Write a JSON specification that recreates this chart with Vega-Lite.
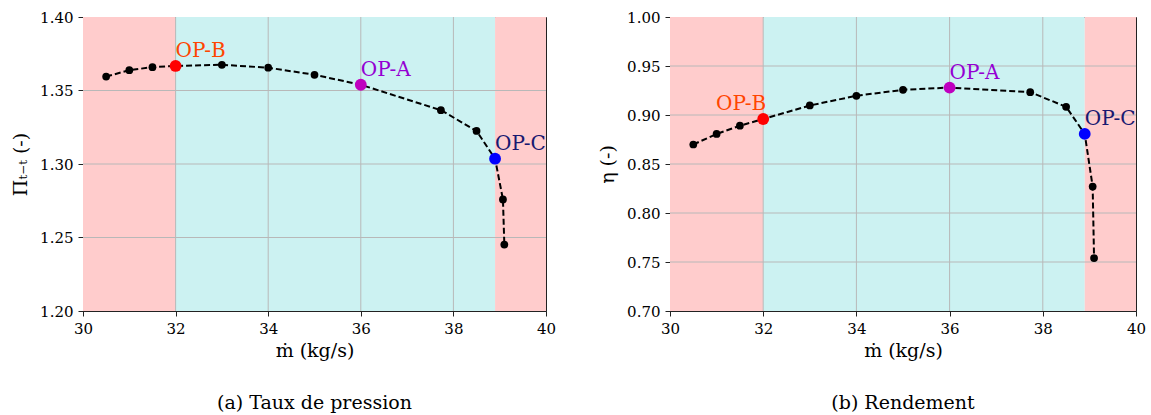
{
  "$schema": "https://vega.github.io/schema/vega-lite/v6.json",
  "padding": {"left": 11, "top": 9, "right": 5, "bottom": 5},
  "spacing": 41,
  "config": {
    "font": "DejaVu Serif",
    "view": {"stroke": "#222", "strokeWidth": 1},
    "axis": {
      "labelFont": "DejaVu Serif", "labelFontSize": 15, "labelColor": "#000",
      "titleFont": "DejaVu Serif", "titleFontSize": 19, "titleFontWeight": "normal", "titleColor": "#000",
      "domainColor": "#222", "domainWidth": 1, "tickColor": "#222", "tickSize": 5, "grid": false,
      "labelPadding": 5, "labelFlush": false, "labelOverlap": false
    },
    "title": {"font": "DejaVu Serif", "fontSize": 19, "fontWeight": "normal", "color": "#000", "orient": "bottom", "offset": 34}
  },
  "datasets": {
    "pts": [
      {"m": 30.5, "pi": 1.3595, "eta": 0.8699, "op": null},
      {"m": 31.0, "pi": 1.3638, "eta": 0.8807, "op": null},
      {"m": 31.5, "pi": 1.3659, "eta": 0.8891, "op": null},
      {"m": 32.0, "pi": 1.3667, "eta": 0.8959, "op": "OP-B"},
      {"m": 33.0, "pi": 1.3675, "eta": 0.9097, "op": null},
      {"m": 34.0, "pi": 1.3655, "eta": 0.9196, "op": null},
      {"m": 35.0, "pi": 1.3607, "eta": 0.9257, "op": null},
      {"m": 36.0, "pi": 1.3539, "eta": 0.9280, "op": "OP-A"},
      {"m": 37.73, "pi": 1.3366, "eta": 0.9233, "op": null},
      {"m": 38.5, "pi": 1.3225, "eta": 0.9084, "op": null},
      {"m": 38.9, "pi": 1.3036, "eta": 0.8807, "op": "OP-C"},
      {"m": 39.07, "pi": 1.2759, "eta": 0.8270, "op": null},
      {"m": 39.1, "pi": 1.2452, "eta": 0.7540, "op": null}
    ],
    "zones": [
      {"x0": 30, "x1": 32, "zone": "hors"},
      {"x0": 32, "x1": 38.9, "zone": "plage"},
      {"x0": 38.9, "x1": 40, "zone": "hors"}
    ],
    "gridx": [{"v": 32}, {"v": 34}, {"v": 36}, {"v": 38}],
    "gridpi": [{"v": 1.25}, {"v": 1.30}, {"v": 1.35}],
    "grideta": [{"v": 0.75}, {"v": 0.80}, {"v": 0.85}, {"v": 0.90}, {"v": 0.95}]
  },
  "hconcat": [
    {
      "width": 463, "height": 294,
      "title": {"text": "(a) Taux de pression"},
      "resolve": {"scale": {"color": "independent"}},
      "layer": [
        {
          "data": {"name": "zones"},
          "mark": {"type": "rect"},
          "encoding": {
            "x": {"field": "x0", "type": "quantitative", "scale": {"domain": [30, 40], "nice": false},
                  "axis": {"title": "ṁ (kg/s)", "values": [30, 32, 34, 36, 38, 40], "format": "d", "titlePadding": 5,
                           "labelFont": "DejaVu Serif", "titleFont": "DejaVu Serif"}},
            "x2": {"field": "x1"},
            "color": {"field": "zone", "type": "nominal", "scale": {"domain": ["hors", "plage"], "range": ["#ffcccc", "#ccf2f2"]}, "legend": null}
          }
        },
        {
          "data": {"name": "gridx"},
          "mark": {"type": "rule", "color": "#b8b8b8", "strokeWidth": 1},
          "encoding": {"x": {"field": "v", "type": "quantitative"}}
        },
        {
          "data": {"name": "gridpi"},
          "mark": {"type": "rule", "color": "#b8b8b8", "strokeWidth": 1},
          "encoding": {"y": {"field": "v", "type": "quantitative"}}
        },
        {
          "data": {"name": "pts"},
          "mark": {"type": "line", "color": "#000", "strokeWidth": 2, "strokeDash": [6, 3]},
          "encoding": {
            "x": {"field": "m", "type": "quantitative"},
            "y": {"field": "pi", "type": "quantitative", "scale": {"domain": [1.2, 1.4], "nice": false, "zero": false},
                  "axis": {"title": "Πₜ₋ₜ (-)", "values": [1.2, 1.25, 1.3, 1.35, 1.4], "format": ".2f", "titlePadding": 9,
                           "labelFont": "DejaVu Serif", "titleFont": "DejaVu Serif"}}
          }
        },
        {
          "data": {"name": "pts"},
          "transform": [{"filter": "datum.op == null"}],
          "mark": {"type": "circle", "color": "#000", "opacity": 1, "size": 60},
          "encoding": {
            "x": {"field": "m", "type": "quantitative"},
            "y": {"field": "pi", "type": "quantitative"}
          }
        },
        {
          "data": {"name": "pts"},
          "transform": [{"filter": "datum.op != null"}],
          "mark": {"type": "circle", "opacity": 1, "size": 140},
          "encoding": {
            "x": {"field": "m", "type": "quantitative"},
            "y": {"field": "pi", "type": "quantitative"},
            "fill": {"field": "op", "type": "nominal", "scale": {"domain": ["OP-A", "OP-B", "OP-C"], "range": ["#bf00bf", "#ff0000", "#0000ff"]}, "legend": null}
          }
        },
        {
          "data": {"name": "pts"},
          "transform": [{"filter": "datum.op != null"}],
          "mark": {"type": "text", "align": "left", "baseline": "alphabetic", "dy": -9, "font": "DejaVu Serif", "fontSize": 20, "clip": true},
          "encoding": {
            "x": {"field": "m", "type": "quantitative"},
            "y": {"field": "pi", "type": "quantitative"},
            "text": {"field": "op"},
            "color": {"field": "op", "type": "nominal", "scale": {"domain": ["OP-A", "OP-B", "OP-C"], "range": ["#9400d3", "#ff4500", "#191970"]}, "legend": null}
          }
        }
      ]
    },
    {
      "width": 466, "height": 294,
      "title": {"text": "(b) Rendement"},
      "resolve": {"scale": {"color": "independent"}},
      "layer": [
        {
          "data": {"name": "zones"},
          "mark": {"type": "rect"},
          "encoding": {
            "x": {"field": "x0", "type": "quantitative", "scale": {"domain": [30, 40], "nice": false},
                  "axis": {"title": "ṁ (kg/s)", "values": [30, 32, 34, 36, 38, 40], "format": "d", "titlePadding": 5,
                           "labelFont": "DejaVu Serif", "titleFont": "DejaVu Serif"}},
            "x2": {"field": "x1"},
            "color": {"field": "zone", "type": "nominal", "scale": {"domain": ["hors", "plage"], "range": ["#ffcccc", "#ccf2f2"]}, "legend": null}
          }
        },
        {
          "data": {"name": "gridx"},
          "mark": {"type": "rule", "color": "#b8b8b8", "strokeWidth": 1},
          "encoding": {"x": {"field": "v", "type": "quantitative"}}
        },
        {
          "data": {"name": "grideta"},
          "mark": {"type": "rule", "color": "#b8b8b8", "strokeWidth": 1},
          "encoding": {"y": {"field": "v", "type": "quantitative"}}
        },
        {
          "data": {"name": "pts"},
          "mark": {"type": "line", "color": "#000", "strokeWidth": 2, "strokeDash": [6, 3]},
          "encoding": {
            "x": {"field": "m", "type": "quantitative"},
            "y": {"field": "eta", "type": "quantitative", "scale": {"domain": [0.7, 1.0], "nice": false, "zero": false},
                  "axis": {"title": "η (-)", "values": [0.7, 0.75, 0.8, 0.85, 0.9, 0.95, 1.0], "format": ".2f", "titlePadding": 9,
                           "labelFont": "DejaVu Serif", "titleFont": "DejaVu Serif"}}
          }
        },
        {
          "data": {"name": "pts"},
          "transform": [{"filter": "datum.op == null"}],
          "mark": {"type": "circle", "color": "#000", "opacity": 1, "size": 60},
          "encoding": {
            "x": {"field": "m", "type": "quantitative"},
            "y": {"field": "eta", "type": "quantitative"}
          }
        },
        {
          "data": {"name": "pts"},
          "transform": [{"filter": "datum.op != null"}],
          "mark": {"type": "circle", "opacity": 1, "size": 140},
          "encoding": {
            "x": {"field": "m", "type": "quantitative"},
            "y": {"field": "eta", "type": "quantitative"},
            "fill": {"field": "op", "type": "nominal", "scale": {"domain": ["OP-A", "OP-B", "OP-C"], "range": ["#bf00bf", "#ff0000", "#0000ff"]}, "legend": null}
          }
        },
        {
          "data": {"name": "pts"},
          "transform": [{"filter": "datum.op == 'OP-A' || datum.op == 'OP-C'"}],
          "mark": {"type": "text", "align": "left", "baseline": "alphabetic", "dy": -9, "font": "DejaVu Serif", "fontSize": 20, "clip": true},
          "encoding": {
            "x": {"field": "m", "type": "quantitative"},
            "y": {"field": "eta", "type": "quantitative"},
            "text": {"field": "op"},
            "color": {"field": "op", "type": "nominal", "scale": {"domain": ["OP-A", "OP-B", "OP-C"], "range": ["#9400d3", "#ff4500", "#191970"]}, "legend": null}
          }
        },
        {
          "data": {"name": "pts"},
          "transform": [{"filter": "datum.op == 'OP-B'"}],
          "mark": {"type": "text", "align": "right", "baseline": "alphabetic", "dx": 3, "dy": -9, "font": "DejaVu Serif", "fontSize": 20, "clip": true, "color": "#ff4500"},
          "encoding": {
            "x": {"field": "m", "type": "quantitative"},
            "y": {"field": "eta", "type": "quantitative"},
            "text": {"field": "op"}
          }
        }
      ]
    }
  ]
}
